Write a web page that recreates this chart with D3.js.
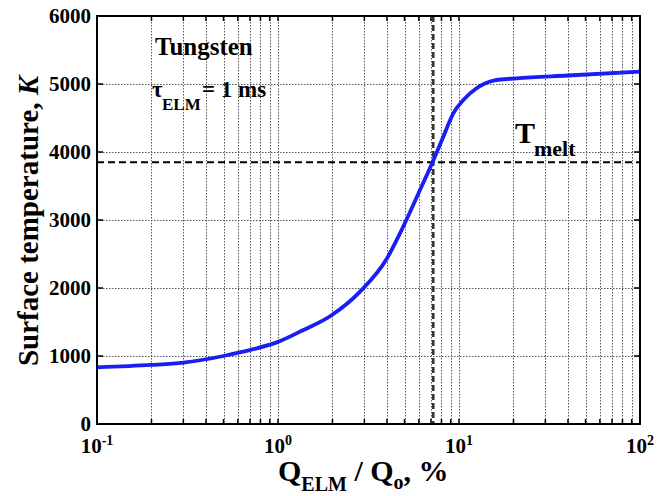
<!DOCTYPE html>
<html>
<head>
<meta charset="utf-8">
<script src="https://cdn.jsdelivr.net/npm/d3@7"></script>
<style>
  body { margin: 0; background: #fff; }
  svg { display: block; }
  text { font-family: "Liberation Serif", "Times New Roman", serif; font-weight: bold; fill: #000; }
</style>
</head>
<body>
<svg width="665" height="496"></svg>
<script>
// energy ratio Q_ELM / Q_o (%) and surface temperature (K)
const qElm = [0.1, 0.2, 0.3, 0.5, 0.73, 1.0, 1.38, 1.94, 2.84, 3.99, 4.82, 6.09, 7.16, 8.19, 9.3, 10.57, 12.5, 15.5, 20.8, 40, 100];
const tSurf = [834, 868, 902, 1000, 1100, 1208, 1382, 1585, 1946, 2430, 2853, 3441, 3857, 4225, 4569, 4765, 4937, 5049, 5084, 5125, 5181];

const tMelt = 3850;      // horizontal dashed line
const qMelt = 7.21;      // vertical dashed line
const yTicks = [0, 1000, 2000, 3000, 4000, 5000, 6000];
const xMajor = [0.1, 1, 10, 100];
const xExp = ["-1", "0", "1", "2"];

const svg = d3.select("svg");
const mLeft = 97, mRight = 640, mTop = 16, mBottom = 424;

const x = d3.scaleLog().domain([0.1, 100]).range([mLeft, mRight]);
const y = d3.scaleLinear().domain([0, 6000]).range([mBottom, mTop]);

// all log ticks (majors + 2..9 minors)
const xAll = x.ticks();

// dotted grid
const grid = svg.append("g")
    .attr("fill", "none")
    .attr("stroke", "#555")
    .attr("stroke-width", 1)
    .attr("stroke-dasharray", "1.5,1.5");

grid.selectAll(".vgrid")
    .data(xAll.filter(d => d > 0.1 && d < 100))
    .enter()
    .append("line")
    .attr("class", "vgrid")
    .attr("x1", d => Math.round(x(d)) + 0.5).attr("x2", d => Math.round(x(d)) + 0.5)
    .attr("y1", mTop).attr("y2", mBottom);

grid.selectAll(".hgrid")
    .data(yTicks.filter(d => d > 0 && d < 6000))
    .enter()
    .append("line")
    .attr("class", "hgrid")
    .attr("x1", mLeft).attr("x2", mRight)
    .attr("y1", d => Math.round(y(d)) + 0.5).attr("y2", d => Math.round(y(d)) + 0.5);

// ticks, pointing inwards on all four sides
const ticks = svg.append("g").attr("stroke", "#000").attr("stroke-width", 1.5);
xAll.forEach(d => {
    ticks.append("line").attr("x1", x(d)).attr("x2", x(d)).attr("y1", mBottom).attr("y2", mBottom - 5);
    ticks.append("line").attr("x1", x(d)).attr("x2", x(d)).attr("y1", mTop).attr("y2", mTop + 5);
});
yTicks.forEach(d => {
    ticks.append("line").attr("x1", mLeft).attr("x2", mLeft + 6).attr("y1", y(d)).attr("y2", y(d));
    ticks.append("line").attr("x1", mRight).attr("x2", mRight - 6).attr("y1", y(d)).attr("y2", y(d));
});

// dashed melting lines
svg.append("line")
    .attr("x1", mLeft).attr("x2", mRight)
    .attr("y1", y(tMelt)).attr("y2", y(tMelt))
    .attr("stroke", "#000").attr("stroke-width", 2)
    .attr("stroke-dasharray", "7,4");

svg.append("line")
    .attr("x1", x(qMelt)).attr("x2", x(qMelt))
    .attr("y1", mTop).attr("y2", mBottom)
    .attr("stroke", "#333").attr("stroke-width", 2.5)
    .attr("stroke-dasharray", "6,3");

// curve
const pts = qElm.map((q, i) => [q, tSurf[i]]);
svg.append("path")
    .datum(pts)
    .attr("fill", "none")
    .attr("stroke", "#1c1cf5")
    .attr("stroke-width", 3.8)
    .attr("stroke-linejoin", "round")
    .attr("d", d3.line().x(d => x(d[0])).y(d => y(d[1])).curve(d3.curveMonotoneX));

// frame
svg.append("rect")
    .attr("x", mLeft).attr("y", mTop)
    .attr("width", mRight - mLeft).attr("height", mBottom - mTop)
    .attr("fill", "none").attr("stroke", "#000").attr("stroke-width", 2);

// y tick labels
svg.append("g").selectAll("text")
    .data(yTicks)
    .enter()
    .append("text")
    .attr("x", mLeft - 6)
    .attr("y", d => y(d) + 7)
    .attr("text-anchor", "end")
    .attr("font-size", 21)
    .text(d => d);

// x tick labels 10^n
const xl = svg.append("g").selectAll("text")
    .data(xMajor)
    .enter()
    .append("text")
    .attr("x", d => x(d))
    .attr("y", 453)
    .attr("text-anchor", "middle")
    .attr("font-size", 21);
xl.append("tspan").text("10");
xl.append("tspan").attr("dy", -8).attr("font-size", 14).text((d, i) => xExp[i]);

// axis titles
const xt = svg.append("text").attr("x", 278).attr("y", 481).attr("font-size", 30);
xt.append("tspan").text("Q");
xt.append("tspan").attr("dy", 10).attr("font-size", 20).text("ELM");
xt.append("tspan").attr("dy", -10).text(" / Q");
xt.append("tspan").attr("dy", 8).attr("font-size", 20).text("o");
xt.append("tspan").attr("dy", -8).text(", %");

const yt = svg.append("text")
    .attr("transform", "translate(38,221) rotate(-90)")
    .attr("text-anchor", "middle")
    .attr("font-size", 29);
yt.append("tspan").text("Surface temperature, ");
yt.append("tspan").attr("font-style", "italic").text("K");

// annotations
svg.append("text").attr("x", 155).attr("y", 55).attr("font-size", 25).text("Tungsten");

const tau = svg.append("text").attr("x", 152).attr("y", 97).attr("font-size", 23);
tau.append("tspan").text("τ");
tau.append("tspan").attr("x", 162).attr("y", 110).attr("font-size", 17).text("ELM");
tau.append("tspan").attr("x", 202).attr("y", 97).text("= 1 ms");

const tm = svg.append("text").attr("x", 515).attr("y", 143).attr("font-size", 30);
tm.append("tspan").text("T");
tm.append("tspan").attr("x", 534).attr("y", 156).attr("font-size", 22).text("melt");
</script>
</body>
</html>
